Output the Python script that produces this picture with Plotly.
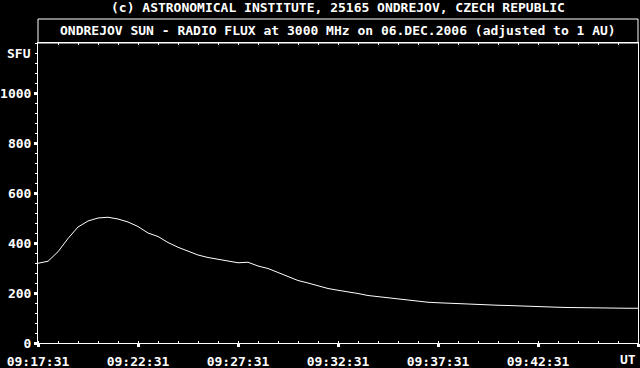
import plotly.graph_objects as go

DATE = "2006-12-06 "

times = [
    "09:17:31", "09:18:01", "09:18:31", "09:19:01", "09:19:31", "09:20:01", "09:20:31", "09:21:01",
    "09:21:31", "09:22:01", "09:22:31", "09:23:01", "09:23:31", "09:24:01", "09:24:31", "09:25:01",
    "09:25:31", "09:26:01", "09:26:31", "09:27:01", "09:27:31", "09:28:01", "09:28:31", "09:29:01",
    "09:29:31", "09:30:01", "09:30:31", "09:31:01", "09:31:31", "09:32:01", "09:32:31", "09:33:01",
    "09:33:31", "09:34:01", "09:34:31", "09:35:01", "09:35:31", "09:36:01", "09:36:31", "09:37:01",
    "09:37:31", "09:38:01", "09:38:31", "09:39:01", "09:39:31", "09:40:01", "09:40:31", "09:41:01",
    "09:41:31", "09:42:01", "09:42:31", "09:43:01", "09:43:31", "09:44:01", "09:44:31", "09:45:01",
    "09:45:31", "09:46:01", "09:46:31", "09:47:01", "09:47:31",
]

flux_sfu = [
    319, 327, 365, 418, 464, 488, 500, 503, 496, 484,
    466, 440, 426, 402, 383, 368, 352, 342, 336, 328,
    321, 323, 308, 298, 282, 263, 250, 240, 228, 218,
    211, 206, 198, 190, 185, 180, 176, 172, 168, 163,
    161, 159, 156, 155, 153, 152, 151, 150, 148, 147,
    146, 144, 143, 142, 141, 141, 140, 140, 140, 139,
    139,
]

tick_times = ["09:17:31", "09:22:31", "09:27:31", "09:32:31", "09:37:31", "09:42:31", "09:47:31"]
tick_text = ["09:17:31", "09:22:31", "09:27:31", "09:32:31", "09:37:31", "09:42:31", ""]
y_ticks = [0, 200, 400, 600, 800, 1000]
y_text = ["0", "200", "400", "600", "800", "1000"]

top_text = "(c) ASTRONOMICAL INSTITUTE, 25165 ONDREJOV, CZECH REPUBLIC"
title_text = "ONDREJOV SUN - RADIO FLUX at 3000 MHz on 06.DEC.2006 (adjusted to 1 AU)"

FONT = dict(family="DejaVu Sans Mono", size=13, color="white", weight="bold")

x = [DATE + t for t in times]
xr = [DATE + tick_times[0], DATE + tick_times[-1]]

fig = go.Figure()
fig.add_trace(go.Scatter(x=x, y=flux_sfu, mode="lines",
                         line=dict(color="white", width=1), showlegend=False,
                         hoverinfo="skip"))
fig.add_trace(go.Scatter(x=x, y=flux_sfu, mode="lines", xaxis="x2",
                         line=dict(color="rgba(0,0,0,0)", width=0), showlegend=False,
                         hoverinfo="skip"))

fig.update_layout(
    width=640, height=368,
    margin=dict(l=38, r=2, t=43, b=25),
    paper_bgcolor="black", plot_bgcolor="black",
    font=FONT,
    xaxis=dict(
        type="date", range=xr, automargin=False,
        tickmode="array", tickvals=[DATE + t for t in tick_times], ticktext=tick_text,
        ticks="outside", ticklen=3, tickwidth=3, tickcolor="white",
        ticklabelstandoff=3,
        showgrid=False, zeroline=False,
        showline=True, linecolor="white", linewidth=1, mirror=True,
        tickfont=FONT,
        minor=dict(dtick=60000, tick0=DATE + tick_times[0], ticks="inside",
                   ticklen=2, tickwidth=1, tickcolor="white", showgrid=False),
    ),
    xaxis2=dict(
        type="date", range=xr, overlaying="x", side="top", automargin=False,
        tickmode="linear", dtick=60000, tick0=DATE + tick_times[0],
        ticks="inside", ticklen=2, tickwidth=1, tickcolor="white",
        showticklabels=False, showgrid=False, zeroline=False, showline=False,
    ),
    yaxis=dict(
        range=[0, 1200], automargin=False,
        tickmode="array", tickvals=y_ticks, ticktext=y_text,
        ticks="outside", ticklen=3, tickwidth=3, tickcolor="white",
        showgrid=False, zeroline=False,
        showline=True, linecolor="white", linewidth=1, mirror=True,
        tickfont=FONT,
        minor=dict(dtick=40, tick0=0, ticks="outside", ticklen=2, tickwidth=1,
                   tickcolor="white", showgrid=False),
    ),
    shapes=[
        dict(type="rect", xref="paper", yref="paper", x0=0, x1=1, y0=1, y1=1.08,
             line=dict(color="white", width=1), fillcolor="rgba(0,0,0,0)"),
    ],
    annotations=[
        dict(text=top_text, xref="paper", yref="paper", x=0.5, y=1 + 35 / 300,
             xanchor="center", yanchor="middle", showarrow=False, font=FONT),
        dict(text=title_text, xref="paper", yref="paper", x=0.5, y=1 + 12 / 300,
             xanchor="center", yanchor="middle", showarrow=False, font=FONT),
        dict(text="SFU", xref="paper", yref="y", x=0, y=1160, xshift=-5,
             xanchor="right", yanchor="middle", showarrow=False, font=FONT),
        dict(text="UT", xref="paper", yref="paper", x=1, y=0, xshift=-1, yshift=-25,
             xanchor="right", yanchor="bottom", showarrow=False, font=FONT,
             borderpad=0),
    ],
)

fig.write_html("out.html")
